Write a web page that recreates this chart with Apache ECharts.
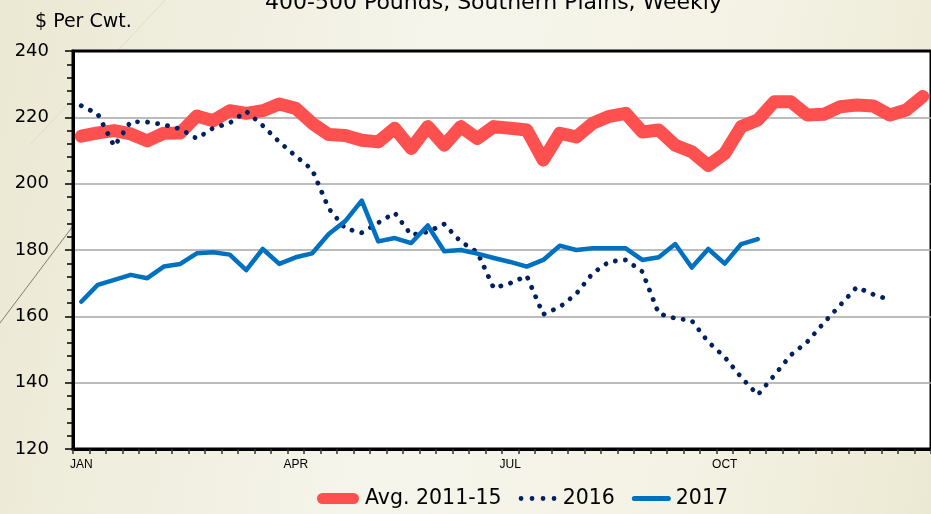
<!DOCTYPE html>
<html>
<head>
<meta charset="utf-8">
<title>Feeder Steer Prices</title>
<script src="https://cdn.jsdelivr.net/npm/echarts@6/dist/echarts.min.js"></script>
<style>
  html, body { margin: 0; padding: 0; }
  body {
    width: 931px; height: 514px; overflow: hidden;
    background: linear-gradient(100deg, #ebe8d3 0%, #f6f5ec 45%, #f4f2e4 75%, #ece9d3 100%);
  }
  #chart { width: 931px; height: 514px; }
</style>
</head>
<body>
<div id="chart"></div>
<script>
// weekly categories, month labels shown at the first week of each quarter
const weeks = Array.from({ length: 52 }, (_, i) => 'W' + (i + 1))
const monthLabels = { 0: 'JAN', 13: 'APR', 26: 'JUL', 39: 'OCT' }
const yTicks = [120, 140, 160, 180, 200, 220, 240]

const avg1115 = [214.3, 215.3, 216, 215, 212.9, 215.2, 215.3, 220.4, 219, 222,
  221.2, 222, 224, 222.7, 218.2, 214.8, 214.5, 213.1, 212.6, 216.7,
  210.6, 217.2, 211.6, 217.2, 213.6, 217.2, 216.7, 216.2, 207.1, 215.2,
  214.1, 218.2, 220.3, 221.2, 215.6, 216.2, 211.6, 209.6, 205.5, 209.1,
  217.2, 219.2, 224.7, 224.7, 220.7, 220.9, 223.2, 223.7, 223.4, 220.7,
  222.2, 226.3]

const y2016 = [223.5, 221, 211.3, 218.7, 218.6, 217.8, 216.5, 213.6, 216.8, 218.3,
  221.8, 217.5, 212.6, 208.3, 204.2, 192.5, 186.5, 185.2, 188.2, 191.2,
  184.5, 185.5, 187.8, 182.5, 179.4, 168.5, 170, 172.2, 160.6, 162.8,
  166.8, 173, 176.5, 177, 173.5, 160.8, 159.4, 158.7, 152.3, 147.7,
  141.6, 136.3, 142.2, 148.3, 152.3, 158, 163.4, 168.8, 166.6, 165]

const y2017 = [164.4, 169.5, 171, 172.5, 171.5, 175, 175.8, 179, 179.3, 178.6,
  173.9, 180.3, 175.8, 177.8, 179, 184.8, 188.7, 194.9, 182.6, 183.6,
  182.1, 187.4, 179.6, 180, 178.9, 177.6, 176.4, 175, 177, 181.3,
  180, 180.5, 180.5, 180.5, 177, 177.8, 181.8, 174.7, 180.3, 175.9,
  181.8, 183.3]

const colors = ['#FF5050', '#002060', '#0070C0']
const font = '"DejaVu Sans", sans-serif'

let myChart = echarts.init(document.getElementById('chart'), null, { renderer: 'canvas' })
let option

option = {
  backgroundColor: 'transparent',
  animation: false,
  title: {
    text: '400-500 Pounds, Southern Plains, Weekly',
    left: 260,
    top: -13,
    textStyle: { fontFamily: font, fontSize: 22, fontWeight: 'normal', color: '#000' }
  },
  graphic: [
    // faint decorative strokes of the slide template
    { type: 'line', shape: { x1: 0, y1: 323, x2: 73, y2: 226 }, style: { stroke: '#7d8266', lineWidth: 1 }, z: -1 },
    { type: 'line', shape: { x1: 30, y1: 145, x2: 165, y2: 0 }, style: { stroke: '#e0dcca', lineWidth: 1 }, z: -1 },
    {
      type: 'text', left: 35, top: 13,
      style: { text: '$ Per Cwt.', font: '19px ' + font, fill: '#000' }
    }
  ],
  legend: {
    left: 311,
    top: 483,
    itemWidth: 44,
    itemHeight: 13,
    itemGap: 12,
    itemStyle: { borderWidth: 0 },
    textStyle: { fontFamily: font, fontSize: 20.5, color: '#000' },
    data: [
      { name: 'Avg. 2011-15', icon: 'path://M0,0 M44,13 M6.5,1 L37.5,1 A5.5,5.5 0 0 1 37.5,12 L6.5,12 A5.5,5.5 0 0 1 6.5,1 Z' },
      { name: '2016', icon: 'path://M0,0 M44,13 M5,6.5 A2.4,2.4 0 1 0 9.8,6.5 A2.4,2.4 0 1 0 5,6.5 Z M16,6.5 A2.4,2.4 0 1 0 20.8,6.5 A2.4,2.4 0 1 0 16,6.5 Z M27,6.5 A2.4,2.4 0 1 0 31.8,6.5 A2.4,2.4 0 1 0 27,6.5 Z M38,6.5 A2.4,2.4 0 1 0 42.8,6.5 A2.4,2.4 0 1 0 38,6.5 Z' },
      { name: '2017', icon: 'path://M0,0 M44,13 M7.5,4 L41.5,4 A2.5,2.5 0 0 1 41.5,9 L7.5,9 A2.5,2.5 0 0 1 7.5,4 Z' }
    ]
  },
  grid: {
    left: 73,
    top: 51,
    width: 867,
    height: 398,
    show: true,
    backgroundColor: '#ffffff',
    borderColor: '#000',
    borderWidth: 3
  },
  xAxis: {
    type: 'category',
    data: weeks,
    boundaryGap: true,
    axisLine: { lineStyle: { color: '#000', width: 3 } },
    axisTick: { show: true, interval: 0, length: 5, lineStyle: { color: '#333', width: 1.5 } },
    axisLabel: {
      interval: 0,
      margin: 10,
      fontFamily: '"Liberation Sans Narrow", "Liberation Sans", sans-serif',
      fontSize: 12,
      color: '#000',
      formatter: function (value, index) {
        return monthLabels[index] || ''
      }
    },
    splitLine: { show: false }
  },
  yAxis: {
    type: 'value',
    min: yTicks[0],
    max: yTicks[yTicks.length - 1],
    interval: 20,
    axisLine: { show: true, lineStyle: { color: '#000', width: 3 } },
    axisTick: { show: true, length: 8, lineStyle: { color: '#000', width: 1.5 } },
    minorTick: { show: true, splitNumber: 5, length: 6, lineStyle: { color: '#000', width: 1.5 } },
    axisLabel: { margin: 24, fontFamily: font, fontSize: 18, color: '#000' },
    splitLine: {
      show: true,
      // gray gridlines, the top one stays black like the plot border
      lineStyle: { color: ['#a6a6a6', '#a6a6a6', '#a6a6a6', '#a6a6a6', '#a6a6a6', '#a6a6a6', '#000'], width: 1.5 }
    }
  },
  series: [
    {
      name: 'Avg. 2011-15',
      type: 'line',
      data: avg1115,
      color: colors[0],
      showSymbol: false,
      symbol: 'none',
      lineStyle: { color: colors[0], width: 13, join: 'round', cap: 'round' }
    },
    {
      name: '2016',
      type: 'line',
      data: y2016,
      color: colors[1],
      showSymbol: false,
      symbol: 'none',
      lineStyle: { color: colors[1], width: 4.8, type: [0.1, 10], cap: 'round', join: 'round' }
    },
    {
      name: '2017',
      type: 'line',
      data: y2017,
      color: colors[2],
      showSymbol: false,
      symbol: 'none',
      lineStyle: { color: colors[2], width: 4.5, join: 'round', cap: 'round' }
    }
  ]
}

option && myChart.setOption(option)
</script>
</body>
</html>
